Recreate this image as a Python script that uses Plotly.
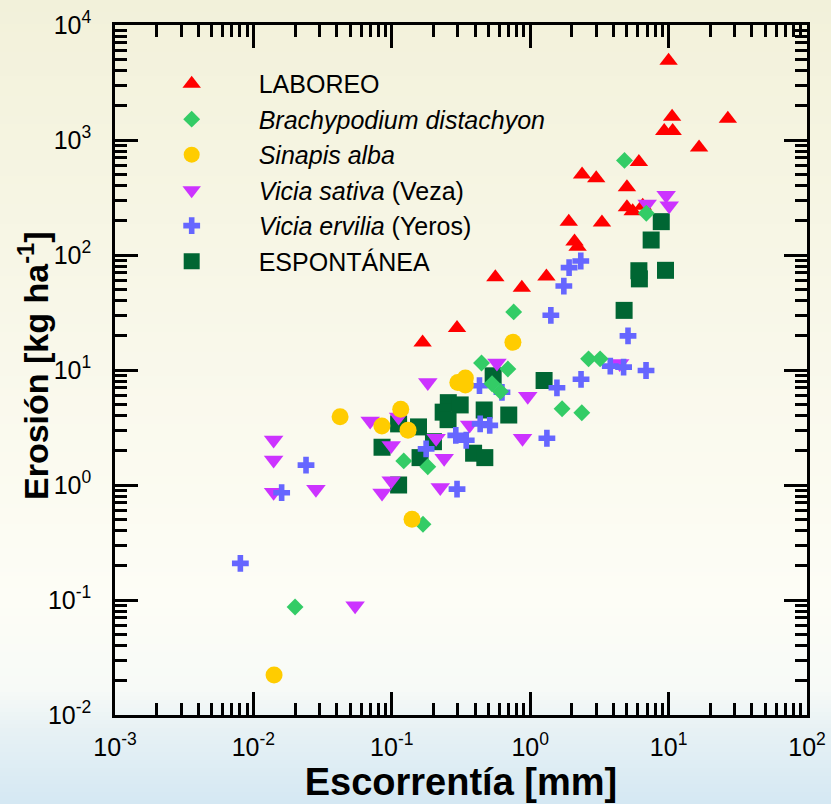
import plotly.graph_objects as go

# ---------------- data ----------------
laboreo_x = [0.167, 0.296, 0.56, 0.87, 1.31, 1.9, 2.09, 2.2, 2.37, 3.0, 3.3, 5.0, 5.0, 5.5, 6.5, 6.1, 10.0, 10.6, 9.3, 10.7, 16.6, 26.8]
laboreo_y = [17.3, 23.2, 64, 52, 65, 195, 131, 118, 500, 465, 192, 388, 260, 240, 268, 645, 4900, 1590, 1200, 1200, 860, 1530]

brachy_x = [0.020, 0.168, 0.122, 0.182, 0.445, 0.53, 0.61, 0.69, 0.76, 1.7, 2.36, 2.64, 3.2, 4.8, 6.9]
brachy_y = [0.087, 0.456, 1.62, 1.44, 11.5, 7.6, 6.5, 10.2, 32, 4.6, 4.25, 12.5, 12.5, 665, 231]

sinapis_x = [0.0141, 0.0423, 0.0848, 0.116, 0.131, 0.140, 0.30, 0.34, 0.34, 0.75]
sinapis_y = [0.0223, 3.93, 3.26, 4.55, 3.0, 0.503, 7.8, 8.5, 7.4, 17.4]

sativa_x = [0.014, 0.014, 0.014, 0.0283, 0.0543, 0.0698, 0.099, 0.112, 0.099, 0.085, 0.182, 0.209, 0.239, 0.224, 0.365, 0.575, 0.96, 0.88, 4.43, 7.0, 9.6, 10.1]
sativa_y = [2.46, 1.65, 0.865, 0.92, 0.089, 3.6, 2.2, 3.9, 1.09, 0.85, 7.77, 2.55, 1.71, 0.95, 3.33, 11.5, 5.9, 2.55, 11.4, 277, 330, 268]

ervilia_x = [0.00805, 0.016, 0.024, 0.177, 0.296, 0.29, 0.345, 0.43, 0.435, 0.51, 0.625, 1.32, 1.56, 2.33, 1.41, 1.75, 1.91, 2.32, 5.09, 3.79, 4.73, 6.87]
ervilia_y = [0.208, 0.857, 1.49, 2.06, 0.92, 2.7, 2.45, 7.3, 3.4, 3.3, 6.4, 2.55, 7.0, 8.3, 29.9, 53.7, 77.6, 88.7, 19.8, 10.8, 10.6, 9.9]

espont_x = [0.085, 0.112, 0.112, 0.156, 0.160, 0.20, 0.256, 0.312, 0.235, 0.255, 0.465, 0.39, 0.47, 0.54, 0.70, 1.26, 4.77, 7.48, 8.85, 6.1, 6.15, 9.5]
espont_y = [2.13, 3.4, 1.0, 3.2, 1.73, 2.38, 5.2, 4.97, 4.3, 3.7, 4.49, 1.89, 1.73, 8.9, 4.06, 8.1, 33, 135, 195, 73, 62, 73.6]

tick_vals_x = [1e-3, 1e-2, 1e-1, 1e0, 1e1, 1e2]
tick_text_x = ["10<sup>-3</sup>", "10<sup>-2</sup>", "10<sup>-1</sup>", "10<sup>0</sup>", "10<sup>1</sup>", "10<sup>2</sup>"]
tick_vals_y = [1e-2, 1e-1, 1e0, 1e1, 1e2, 1e3, 1e4]
tick_text_y = ["10<sup>-2</sup>", "10<sup>-1</sup>", "10<sup>0</sup>", "10<sup>1</sup>", "10<sup>2</sup>", "10<sup>3</sup>", "10<sup>4</sup>"]

x_title = "Escorrentía [mm]"
y_title = "Erosión [kg ha<sup>-1</sup>]"

# ---------------- figure ----------------
W, H = 831, 804
ML, MR, MT, MB = 115, 24, 25, 89
FONT = "Liberation Sans, Arial, sans-serif"

fig = go.Figure()

series = [
    # (x, y, name, symbol, color, size, legendrank)
    (espont_x, espont_y, "ESPONTÁNEA", "square", "#006633", 17, 6),
    (laboreo_x, laboreo_y, "LABOREO", "triangle-up", "#ff0000", 16, 1),
    (sativa_x, sativa_y, "<i>Vicia sativa</i> (Veza)", "triangle-down", "#cc33ff", 17, 4),
    (ervilia_x, ervilia_y, "<i>Vicia ervilia</i> (Yeros)", "cross", "#6666ff", 14, 5),
    (brachy_x, brachy_y, "<i>Brachypodium distachyon</i>", "diamond", "#33cc66", 13, 2),
    (sinapis_x, sinapis_y, "<i>Sinapis alba</i>", "circle", "#ffcc00", 17, 3),
]
for xs, ys, name, sym, col, sz, rank in series:
    fig.add_trace(go.Scatter(
        x=xs, y=ys, mode="markers", name=name, legendrank=rank,
        marker=dict(symbol=sym, color=col, size=sz, line=dict(width=0)),
    ))

# background gradient (paper-referenced bands)
stops = [(0, (242, 241, 218)), (300, (248, 247, 232)), (600, (253, 253, 246)),
         (690, (247, 250, 247)), (730, (231, 241, 244)), (804, (213, 232, 243))]

def col_at(py):
    for (p0, c0), (p1, c1) in zip(stops[:-1], stops[1:]):
        if p0 <= py <= p1:
            t = (py - p0) / (p1 - p0)
            return tuple(round(a + (b - a) * t) for a, b in zip(c0, c1))
    return stops[-1][1]

pw, ph = W - ML - MR, H - MT - MB
shapes = []
band = 4
for py in range(0, H, band):
    c = col_at(py + band / 2)
    y0 = (H - MB - (py + band + 0.5)) / ph
    y1 = (H - MB - py) / ph
    shapes.append(dict(type="rect", xref="paper", yref="paper", layer="below",
                       x0=-ML / pw - 0.01, x1=(W - ML) / pw + 0.01, y0=y0, y1=y1,
                       fillcolor="rgb(%d,%d,%d)" % c, line=dict(width=0)))

axis_common = dict(
    type="log", showgrid=False, zeroline=False, automargin=False,
    showline=True, linecolor="black", linewidth=2.5, mirror="ticks",
    ticks="inside", ticklen=23, tickwidth=2.5, tickcolor="black",
    tickmode="array",
    minor=dict(ticks="inside", ticklen=12, tickwidth=2.5, tickcolor="black",
               dtick="D1", showgrid=False),
    tickfont=dict(family=FONT, size=25, color="black"),
)

fig.update_layout(
    width=W, height=H,
    margin=dict(l=ML, r=MR, t=MT, b=MB, pad=0, autoexpand=False),
    paper_bgcolor="rgb(242,241,218)",
    plot_bgcolor="rgba(0,0,0,0)",
    shapes=shapes,
    showlegend=True,
    legend=dict(x=0.014, y=0.948, xanchor="left", yanchor="top",
                bgcolor="rgba(0,0,0,0)", borderwidth=0,
                font=dict(family=FONT, size=25, color="black"),
                itemwidth=124, tracegroupgap=0),
    xaxis=dict(axis_common, range=[-3, 2], tickvals=tick_vals_x, ticktext=tick_text_x,
               ticklabelstandoff=8,
               title=dict(text=x_title, standoff=9,
                          font=dict(family=FONT, size=38, color="black", weight="bold"))),
    yaxis=dict(axis_common, range=[-2, 4], tickvals=tick_vals_y, ticktext=tick_text_y,
               ticklabelstandoff=16),
    annotations=[dict(text=y_title, textangle=-90, xref="paper", yref="paper",
                      x=(33 - ML) / pw, y=(H - MB - 366) / ph,
                      xanchor="center", yanchor="middle", showarrow=False,
                      font=dict(family=FONT, size=34, color="black", weight="bold"))],
)

fig.write_html("out.html", config={"displayModeBar": False},
               post_script="document.body.style.margin='0';document.body.style.overflow='hidden';")
